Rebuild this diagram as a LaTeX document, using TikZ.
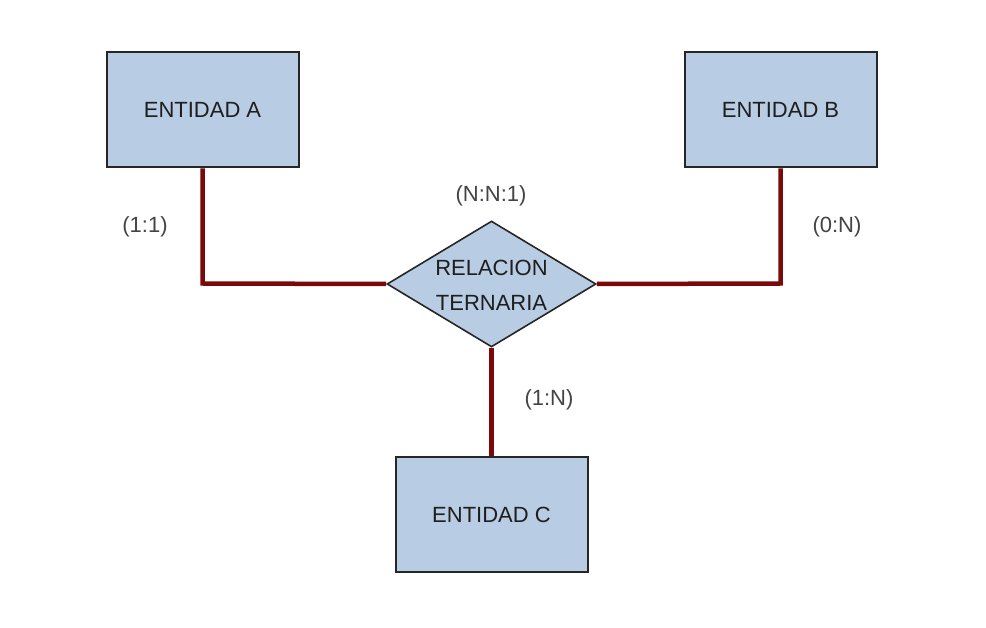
\documentclass[tikz,border=0pt]{standalone}
\usepackage{fontspec}
\setmainfont{Liberation Sans}
\usetikzlibrary{shapes.geometric,backgrounds}
\definecolor{boxfill}{HTML}{B8CCE4}
\definecolor{boxline}{HTML}{262626}
\definecolor{relline}{HTML}{7A0A0A}
\definecolor{labtext}{HTML}{444444}
\definecolor{boxtext}{HTML}{1E1E1E}
\tikzset{
  entity/.style={draw=boxline, fill=boxfill, line width=2pt, minimum width=192pt, minimum height=115pt, inner sep=0pt, text=boxtext, font=\fontsize{22}{26}\selectfont},
  relation/.style={draw=boxline, fill=boxfill, line width=1.6pt, diamond, aspect=1.66, minimum width=209pt, minimum height=126pt, inner sep=0pt},
  reltext/.style={text=boxtext, align=center, inner sep=0pt, font=\fontsize{22}{35}\selectfont},
  conn/.style={draw=relline, line width=4.5pt, line join=miter},
  card/.style={text=labtext, font=\fontsize{22}{26}\selectfont, inner sep=0pt}
}
\begin{document}
\begin{tikzpicture}[x=1pt,y=-1pt]
\useasboundingbox (0,0) rectangle (986,628);
% shapes
\node[entity] (A) at (202.5,110) {ENTIDAD A};
\node[entity] (B) at (780.5,110) {ENTIDAD B};
\node[entity] (C) at (491.5,514.5) {ENTIDAD C};
\node[relation] (R) at (491.5,284) {};
\node[reltext] (Rt) at (491.5,285) {RELACION\\TERNARIA};
% connectors
\coordinate (ca) at (202.5,283.5);
\coordinate (cb) at (780.5,283.5);
\begin{scope}[on background layer]
\fill[white] (0,0) rectangle (986,628);
\draw[conn] (A.south) -- (ca) -- (R.west);
\draw[conn] (B.south) -- (cb) -- (R.east);
\draw[conn] (R.south) -- (C.north);
\end{scope}
% cardinality labels
\node[card] (lA) at (145,227) {(1:1)};
\node[card] (lR) at (491,196) {(N:N:1)};
\node[card] (lB) at (837,227) {(0:N)};
\node[card] (lC) at (549,400) {(1:N)};
\end{tikzpicture}
\end{document}
